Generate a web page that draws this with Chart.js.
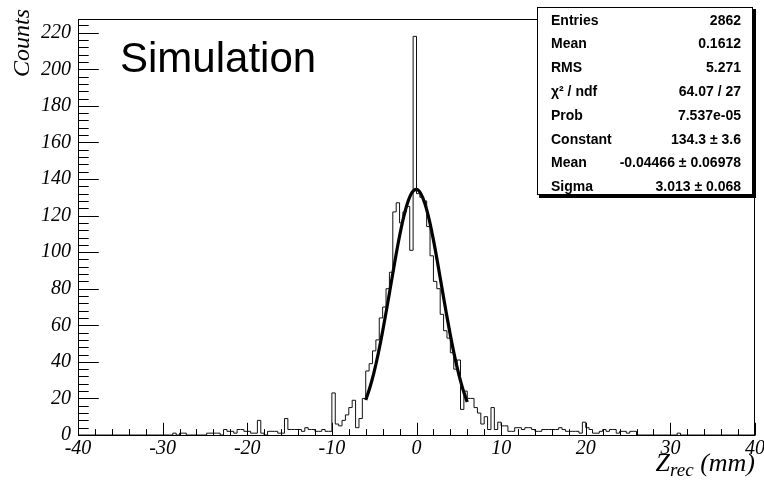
<!DOCTYPE html>
<html><head><meta charset="utf-8">
<script src="https://cdn.jsdelivr.net/npm/chart.js@4.4.1/dist/chart.umd.min.js"></script>
<style>html,body{margin:0;padding:0;background:#fff}#wrap{width:764px;height:485px}</style>
</head><body><div id="wrap"><canvas id="c" width="764" height="485"></canvas></div>
<script>
// ---- data ----
const xMin = -40, xMax = 40, binWidth = 0.4;
// 200 bins of 0.4 mm from -40 to 40 (counts)
const counts = [
  0,0,0,0,0,0,0,0,0,0, 0,0,0,0,0,0,0,0,0,0,
  0,0,0,0,0,0,0,0,0,1, 0,1,1,0,0,0,0,0,0,1,
  1,1,1,0,3,2,2,1,3,3, 2,2,1,1,8,1,0,2,2,2,
  1,1,9,3,3,3,3,2,4,3, 3,2,2,3,2,2,23,6,5,8,
  11,15,19,4,9,20,35,39,46,52, 64,70,80,89,122,127,116,122,125,101,
  218,132,130,128,114,98,84,80,66,57, 53,45,36,41,14,24,20,20,15,12,
  6,10,3,15,3,7,5,5,2,2, 4,4,3,4,4,3,2,2,3,3,
  3,3,3,4,3,2,2,2,2,1, 7,4,3,1,1,2,3,2,3,3,
  1,2,2,1,2,2,0,0,0,0, 0,0,0,0,0,0,0,0,1,0,
  0,0,0,0,0,0,0,0,0,0, 0,0,0,0,0,0,0,0,0,0
];
// Gaussian fit curve (fit range -6 .. 6)
const fitX = [-6,-5.5,-5,-4.5,-4,-3.5,-3,-2.5,-2,-1.5,-1,-0.5,0,0.5,1,1.5,2,2.5,3,3.5,4,4.5,5,5.5,6];
const fitY = [19.1,26.1,34.7,45.0,56.7,69.6,83.0,96.4,108.8,119.5,127.7,132.8,134.3,132.1,126.5,117.8,106.7,94.0,80.6,67.2,54.6,43.1,33.1,24.7,18.0];
const xTicks = [-40,-30,-20,-10,0,10,20,30,40];
const yTicks = [0,20,40,60,80,100,120,140,160,180,200,220];
const yMax = 227.5;
const statLabels = ["Entries","Mean","RMS","\u03C7\u00B2 / ndf","Prob","Constant","Mean","Sigma"];
const statValues = ["2862","0.1612","5.271","64.07 / 27","7.537e-05","134.3 \u00B1 3.6","-0.04466 \u00B1 0.06978","3.013 \u00B1 0.068"];

// ---- build tables ----
const histPts = counts.map((c, i) => ({x: xMin + i * binWidth, y: c}));
histPts.push({x: xMax, y: 0});
const fitPts = fitX.map((x, i) => ({x: x, y: fitY[i]}));

const serifI = "Liberation Serif";
const sans = "Liberation Sans";

const decor = {
  id: 'decor',
  afterDatasetsDraw(chart) {
    const ctx = chart.ctx, a = chart.chartArea;
    const xs = chart.scales.x, ys = chart.scales.y;
    ctx.save();
    ctx.strokeStyle = '#000'; ctx.lineWidth = 1;
    // frame
    ctx.strokeRect(Math.round(a.left) + 0.5, Math.round(a.top) + 0.5,
                   Math.round(a.right - a.left) - 1, Math.round(a.bottom - a.top));
    // x ticks (inside)
    const bot = Math.round(a.bottom) + 0.5;
    ctx.beginPath();
    for (let v = xMin; v <= xMax + 1e-9; v += 2) {
      const px = Math.round(xs.getPixelForValue(v)) + 0.5;
      const major = Math.abs(v % 10) < 1e-9;
      const len = major ? 12.7 : 6.4;
      ctx.moveTo(px, bot); ctx.lineTo(px, bot - len);
    }
    // y ticks (inside)
    const lft = Math.round(a.left) + 0.5;
    for (let v = 0; v <= yMax; v += 4) {
      const py = Math.round(ys.getPixelForValue(v)) + 0.5;
      const major = v % 20 === 0;
      const len = major ? 20.3 : 10.2;
      ctx.moveTo(lft, py); ctx.lineTo(lft + len, py);
    }
    ctx.stroke();

    // stats box
    const bx = 537, by = 7, bw = 216, bh = 188;
    ctx.fillStyle = '#000';
    ctx.fillRect(bx + 2, by + 2, bw + 1, bh + 1);
    ctx.fillStyle = '#fff';
    ctx.fillRect(bx, by, bw, bh);
    ctx.strokeRect(bx + 0.5, by + 0.5, bw - 1, bh - 1);
    ctx.fillStyle = '#000';
    ctx.font = "bold 14px " + sans;
    ctx.textBaseline = 'middle';
    for (let i = 0; i < statLabels.length; i++) {
      const y = 20.7 + 23.8 * i;
      ctx.textAlign = 'left';
      ctx.fillText(statLabels[i], 551, y);
      ctx.textAlign = 'right';
      ctx.fillText(statValues[i], 741, y);
    }

    // Simulation label
    ctx.textAlign = 'left'; ctx.textBaseline = 'alphabetic';
    ctx.font = "42px " + sans;
    ctx.fillText("Simulation", 120, 72);

    // y title
    ctx.save();
    ctx.translate(29, 9);
    ctx.rotate(-Math.PI / 2);
    ctx.textAlign = 'right';
    ctx.font = "italic 24px " + serifI;
    ctx.fillText("Counts", 0, 0);
    ctx.restore();

    // x title: Z_rec (mm), right-aligned at 755
    ctx.font = "italic 26px " + serifI;
    const wZ = ctx.measureText("Z").width;
    const tail = " (mm)";
    const wT = ctx.measureText(tail).width;
    ctx.font = "italic 19px " + serifI;
    const wS = ctx.measureText("rec").width;
    let x0 = 755 - wT - wS - wZ;
    const base = 471;
    ctx.font = "italic 26px " + serifI;
    ctx.fillText("Z", x0, base);
    ctx.font = "italic 19px " + serifI;
    ctx.fillText("rec", x0 + wZ, base + 5);
    ctx.font = "italic 26px " + serifI;
    ctx.fillText(tail, x0 + wZ + wS, base);
    ctx.restore();
  }
};

new Chart(document.getElementById('c'), {
  type: 'line',
  data: {
    datasets: [
      { data: histPts, stepped: 'after', borderColor: '#111', borderWidth: 1,
        pointRadius: 0, fill: false, tension: 0 },
      { data: fitPts, borderColor: '#000', borderWidth: 3.2, pointRadius: 0,
        fill: false, cubicInterpolationMode: 'monotone' }
    ]
  },
  options: {
    responsive: false, animation: false, devicePixelRatio: 1,
    layout: { padding: { top: 13, right: 9, left: 0, bottom: 0 } },
    plugins: { legend: { display: false }, tooltip: { enabled: false } },
    scales: {
      x: {
        type: 'linear', min: xMin, max: xMax,
        grid: { display: false, drawTicks: false }, border: { display: false },
        afterBuildTicks: s => { s.ticks = xTicks.map(v => ({value: v})); },
        afterFit: s => { s.height = 50; s.paddingLeft = 0; s.paddingRight = 0; },
        ticks: { autoSkip: false, maxRotation: 0, padding: 2, color: '#000',
                 font: { family: serifI, style: 'italic', size: 20 },
                 callback: v => String(v) }
      },
      y: {
        type: 'linear', min: 0, max: yMax,
        grid: { display: false, drawTicks: false }, border: { display: false },
        afterBuildTicks: s => { s.ticks = yTicks.map(v => ({value: v})); },
        afterFit: s => { s.width = 78; },
        ticks: { autoSkip: false, padding: 7, color: '#000',
                 font: { family: serifI, style: 'italic', size: 20 },
                 callback: v => String(v) }
      }
    }
  },
  plugins: [decor]
});
</script>
</body></html>
